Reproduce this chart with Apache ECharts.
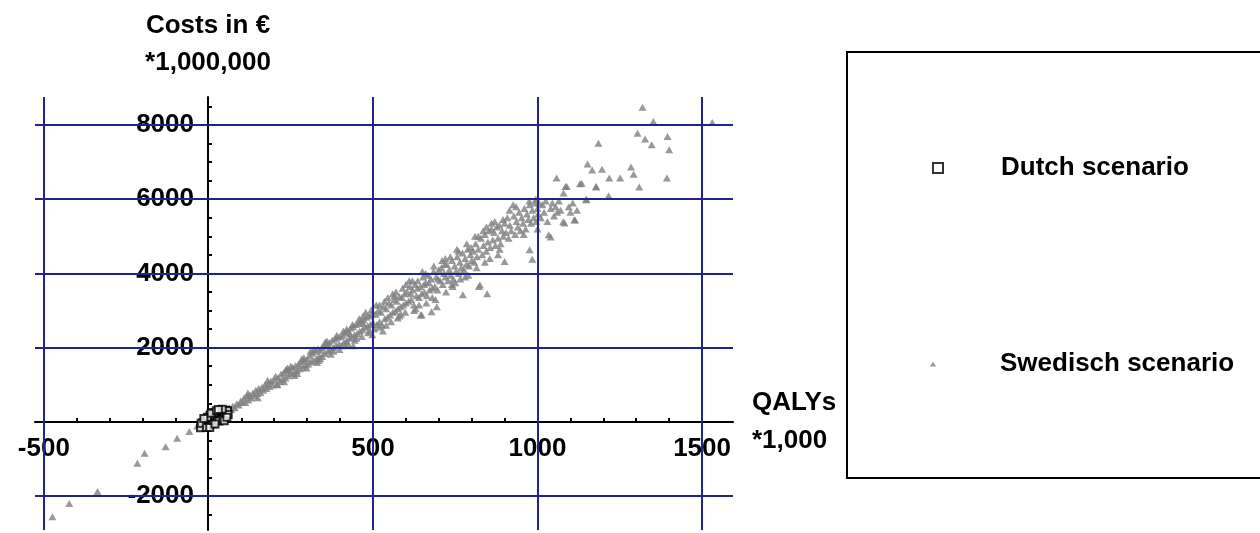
<!DOCTYPE html>
<html>
<head>
<meta charset="utf-8">
<title>Costs vs QALYs</title>
<script src="https://cdn.jsdelivr.net/npm/echarts@6/dist/echarts.min.js"></script>
<style>
  html, body { margin: 0; padding: 0; background: #fff; }
  #chart { width: 1260px; height: 533px; }
</style>
</head>
<body>
<div id="chart"></div>
<script>
// values (QALYs *1,000 ; costs in EUR *1,000,000)
const dutchPoints = [
  [-20, -120], [-15, -60], [-10, -90], [-8, 0], [-5, 40], [0, -40], [0, 60], [3, 20], [6, 110], [8, -20],
  [10, 70], [12, 150], [15, 30], [18, 120], [20, 200], [22, 80], [25, 160], [28, 240], [30, 110], [33, 190],
  [35, 280], [38, 150], [40, 230], [43, 300], [45, 180], [48, 260], [50, 210], [53, 310], [55, 240], [-12, 30],
  [-18, -30], [2, -100], [14, -50], [26, 40], [36, 70], [46, 120], [52, 160], [5, 180], [-3, 120], [16, 250],
  [-24, -160], [-22, -40], [-6, -150], [8, 230], [24, 300], [32, 20], [44, 60], [58, 300], [60, 200],
  [42, 340], [30, 330], [-14, 90], [4, -150], [20, -60], [48, 30], [56, 120]
]

const swedishPoints = [
  [-474, -2560], [-423, -2200], [-337, -1880], [-216, -1120], [-194, -850], [-130, -670], [-95, -440],
  [-58, -260], [-34, -110], [-15, -60], [-5, 20], [5, 40], [10, -20],
  [18, 70], [25, 160], [31, 110], [38, 230], [44, 200], [50, 290], [57, 240], [63, 370], [69, 330], [74, 420],
  [80, 380], [86, 490], [92, 450], [98, 560], [103, 520],
  [108, 640], [112, 520], [117, 700], [121, 590], [126, 720], [130, 640], [135, 780], [140, 700], [144, 850],
  [149, 760], [153, 900], [158, 790], [163, 930], [167, 850], [172, 1000], [176, 900], [181, 1040], [186, 950],
  [190, 1100], [195, 990], [199, 1130],
  [120, 780], [150, 650], [180, 1120], [210, 1000], [240, 1450], [270, 1300], [290, 1720], [230, 1080],
  [204, 1230], [208, 1010], [212, 1190], [217, 1090], [221, 1290], [225, 1150], [230, 1330], [234, 1180],
  [238, 1400], [243, 1240], [247, 1390], [252, 1300], [256, 1470], [260, 1320], [265, 1520], [269, 1380],
  [274, 1560], [278, 1430], [282, 1620], [287, 1470], [291, 1650], [296, 1530], [300, 1700],
  [235, 1400], [262, 1250], [284, 1700], [250, 1500], [298, 1450],
  [304, 1560], [308, 1780], [312, 1620], [316, 1850], [320, 1660], [325, 1900], [329, 1700], [333, 1960],
  [337, 1780], [342, 1930], [346, 1760], [350, 2050], [354, 1840], [359, 2100], [363, 1900], [367, 2140],
  [371, 1950], [376, 2200], [380, 2000], [384, 2240], [388, 2060], [393, 2280], [397, 2100], [400, 2300],
  [310, 1900], [335, 1650], [355, 2150], [372, 1820], [390, 2330], [398, 1950], [345, 2000], [365, 2050],
  [320, 1950], [340, 1700], [360, 2180], [380, 1900], [330, 1600],
  [404, 2050], [408, 2330], [412, 2150], [416, 2400], [420, 2180], [424, 2450], [428, 2250], [432, 2530],
  [436, 2280], [440, 2560], [444, 2350], [448, 2620], [452, 2380], [456, 2660], [460, 2440], [464, 2720],
  [468, 2480], [472, 2750], [476, 2550], [480, 2820], [484, 2580], [488, 2850], [492, 2620], [496, 2900],
  [500, 2680], [410, 2450], [425, 2100], [438, 2620], [445, 2200], [458, 2780], [466, 2300], [478, 2950],
  [485, 2400], [495, 3020], [498, 2350], [470, 2650], [430, 2380], [440, 2050],
  [420, 2500], [450, 2250], [470, 2850], [490, 2450], [415, 2050],
  [504, 2500], [508, 2900], [512, 2620], [516, 3000], [520, 2700], [524, 2950], [528, 2600], [532, 3100],
  [536, 2780], [540, 3050], [544, 2820], [548, 3200], [552, 2880], [556, 3150], [560, 2950], [564, 3300],
  [568, 2980], [572, 3250], [576, 3050], [580, 3380], [584, 3100], [588, 3350], [592, 3150], [596, 3450],
  [600, 3200], [510, 3150], [530, 2450], [545, 3350], [555, 2700], [570, 3500], [575, 2800], [590, 3600],
  [598, 2950], [585, 2900], [565, 3400], [535, 3250], [518, 2550],
  [520, 3150], [540, 2600], [560, 3450], [580, 2850], [600, 3700],
  [604, 3500], [608, 3250], [612, 3650], [616, 3300], [620, 3550], [624, 3150], [628, 3700], [632, 3400],
  [636, 3800], [640, 3350], [644, 3650], [648, 3450], [652, 3900], [656, 3500], [660, 3750], [664, 3400],
  [668, 3950], [672, 3550], [676, 3850], [680, 3600], [684, 4050], [688, 3650], [692, 3900], [696, 3550],
  [700, 4100], [610, 3800], [625, 3000], [645, 2880], [648, 2880], [650, 4050], [662, 3200], [678, 2970],
  [685, 4200], [690, 3300], [698, 3850], [615, 3450], [635, 3600], [655, 3700], [670, 3750], [694, 3100],
  [620, 3800], [640, 3150], [660, 4000], [680, 3350], [630, 3050],
  [704, 3800], [708, 4150], [712, 3700], [716, 4000], [720, 3900], [724, 4250], [728, 3800], [732, 4100],
  [736, 3950], [740, 4350], [744, 3850], [748, 4200], [752, 4050], [756, 4450], [760, 4000], [764, 4300],
  [768, 4150], [772, 4550], [776, 4100], [780, 4400], [784, 4250], [788, 4650], [792, 4200], [796, 4500],
  [800, 4350], [710, 4350], [722, 3500], [735, 4450], [742, 3650], [755, 4650], [773, 3423], [765, 3850],
  [785, 4800], [790, 3950], [798, 4700], [718, 4250], [750, 3750],
  [720, 4400], [740, 3700], [760, 4600], [780, 3900],
  [804, 4600], [808, 4300], [812, 4800], [816, 4450], [820, 4650], [822, 3647], [825, 3690], [828, 4950],
  [832, 4500], [836, 4750], [840, 5050], [844, 4600], [847, 3450], [849, 4850], [852, 5150], [856, 4700],
  [860, 5350], [864, 4900], [868, 5100], [872, 4750], [876, 5250], [880, 4950], [884, 5300], [888, 4800],
  [892, 5150], [896, 5000], [900, 4320], [900, 5350], [810, 5000], [835, 5150], [855, 4400], [870, 5400],
  [885, 4650], [895, 5450], [815, 4150], [845, 5250],
  [820, 5000], [840, 4300], [860, 5200], [880, 4500],
  [904, 5100], [908, 5500], [912, 4950], [916, 5300], [920, 5150], [926, 5850], [928, 5550], [932, 5050],
  [936, 5400], [940, 5250], [944, 5650], [948, 5150], [952, 5500], [956, 5350], [960, 5750], [964, 5200],
  [968, 5600], [972, 5450], [976, 4636], [976, 5850], [980, 5350], [984, 4385], [984, 5700], [988, 5500],
  [992, 5900], [996, 5400], [1000, 5750], [915, 5700], [935, 5800], [958, 5050], [975, 5950], [995, 6000],
  [1002, 5600], [1000, 5200], [1005, 5900],
  [1010, 5500], [1015, 5850], [1020, 5650], [1025, 5950], [1030, 5400], [1034, 5040], [1040, 4980],
  [1040, 5750], [1045, 5900], [1050, 5550], [1055, 5800], [1058, 6570], [1060, 5650], [1065, 5950],
  [1070, 5700], [1078, 5395], [1079, 6165], [1082, 5356], [1085, 6340], [1089, 6340], [1095, 5800],
  [1100, 5650], [1107, 5895], [1112, 5445], [1114, 5440], [1120, 5700], [1129, 6415], [1134, 6430],
  [1148, 6000], [1148, 5984], [1152, 6950], [1166, 6790], [1178, 6326], [1178, 6342], [1185, 7510],
  [1196, 6810], [1216, 6090], [1218, 6570], [1251, 6570], [1284, 6865], [1292, 6675], [1304, 7780],
  [1309, 6326], [1319, 8480], [1327, 7620], [1347, 7466], [1352, 8095], [1393, 6570], [1395, 7690],
  [1400, 7330], [1531, 8070]
]

const xGridValues = [-500, 500, 1000, 1500]
const yGridValues = [-2000, 2000, 4000, 6000, 8000]
const xTickValues = [-500, -400, -300, -200, -100, 100, 200, 300, 400, 500, 600, 700, 800, 900, 1000,
  1100, 1200, 1300, 1400, 1500]
const yTickValues = [-2500, -2000, -1500, -1000, -500, 500, 1000, 1500, 2000, 2500, 3000, 3500, 4000,
  4500, 5000, 5500, 6000, 6500, 7000, 7500, 8000, 8500]

const FONT = "'Liberation Sans', Arial, sans-serif"
const GRID_BLUE = '#23238a'
const textBase = { fontFamily: FONT, fontWeight: 'bold', fontSize: 26, color: '#000' }

// axes cross at zero: shift the axes from the grid edges to the zero lines
const X_AXIS_OFFSET = -108   // bottom edge (530) -> y = 0 (422)
const Y_AXIS_OFFSET = -173   // left edge (35) -> x = 0 (208)

const chart = echarts.init(document.getElementById('chart'))

const option = {
  animation: false,
  backgroundColor: '#fff',
  grid: { left: 35, top: 97, width: 698, height: 433, containLabel: false, outerBoundsMode: 'none' },
  xAxis: {
    type: 'value',
    min: -527,
    max: 1594,
    z: 2,
    position: 'bottom',
    offset: X_AXIS_OFFSET,
    name: 'QALYs\n*1,000',
    nameLocation: 'end',
    nameGap: 19,
    nameTextStyle: { ...textBase, align: 'left', verticalAlign: 'middle', lineHeight: 38 },
    axisLine: { onZero: false, lineStyle: { color: '#000', width: 2 } },
    axisTick: { show: true, inside: true, length: 4, customValues: xTickValues, lineStyle: { color: '#000', width: 2 } },
    axisLabel: { ...textBase, customValues: xGridValues, margin: 14, formatter: (v) => String(v) },
    splitLine: { show: false }
  },
  yAxis: {
    type: 'value',
    min: -2916,
    max: 8755,
    z: 2,
    position: 'left',
    offset: Y_AXIS_OFFSET,
    name: 'Costs in €\n*1,000,000',
    nameLocation: 'end',
    nameGap: 16,
    nameTextStyle: { ...textBase, lineHeight: 37 },
    axisLine: { onZero: false, lineStyle: { color: '#000', width: 2 } },
    axisTick: { show: true, inside: true, length: 4, customValues: yTickValues, lineStyle: { color: '#000', width: 2 } },
    axisLabel: { ...textBase, customValues: yGridValues, margin: 14, formatter: (v) => String(v) },
    splitLine: { show: false }
  },
  legend: [
    {
      data: ['Dutch scenario'],
      left: 932,
      top: 153,
      padding: 0,
      itemWidth: 10,
      itemHeight: 10,
      selectedMode: false,
      textStyle: { ...textBase, lineHeight: 30, padding: [0, 0, 0, 53] }
    },
    {
      data: ['Swedisch scenario'],
      left: 930,
      top: 349,
      padding: 0,
      itemWidth: 6,
      itemHeight: 5,
      selectedMode: false,
      textStyle: { ...textBase, lineHeight: 30, padding: [0, 0, 0, 59] }
    }
  ],
  graphic: [
    {
      type: 'rect',
      shape: { x: 847, y: 52, width: 440, height: 426 },
      style: { fill: 'none', stroke: '#000', lineWidth: 2 },
      silent: true
    }
  ],
  series: [
    {
      name: 'grid',
      type: 'scatter',
      data: [],
      z: 1,
      silent: true,
      markLine: {
        silent: true,
        symbol: 'none',
        label: { show: false },
        lineStyle: { color: GRID_BLUE, width: 2, type: 'solid' },
        data: [
          ...xGridValues.map((v) => ({ xAxis: v })),
          ...yGridValues.map((v) => ({ yAxis: v }))
        ]
      }
    },
    {
      name: 'Swedisch scenario',
      type: 'scatter',
      z: 3,
      data: swedishPoints,
      symbol: 'triangle',
      symbolSize: [8, 7],
      itemStyle: { color: '#808080' }
    },
    {
      name: 'Dutch scenario',
      type: 'scatter',
      z: 5,
      data: dutchPoints,
      symbol: 'emptyRect',
      symbolSize: 7,
      itemStyle: { color: '#000', borderColor: '#000', borderWidth: 2 }
    }
  ]
}

chart.setOption(option)
</script>
</body>
</html>
